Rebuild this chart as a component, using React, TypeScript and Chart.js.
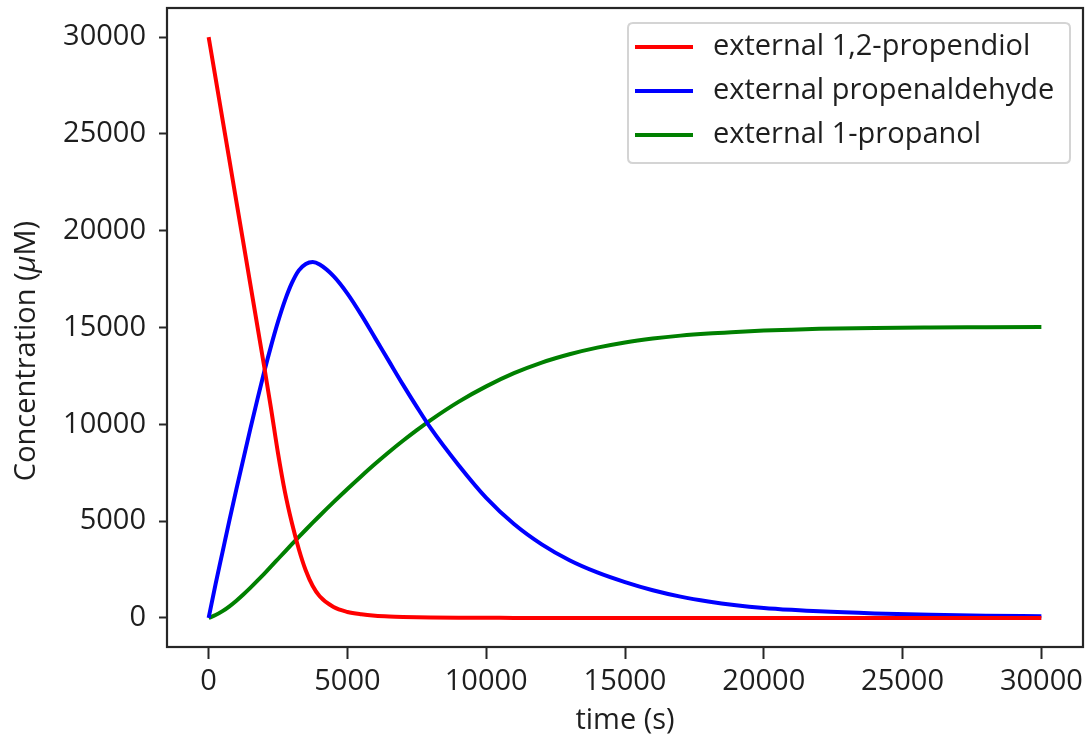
import React, { useEffect, useRef } from "react";
import { Chart, registerables } from "chart.js";

Chart.register(...registerables);

const timePoints = [
  0, 250, 500, 750, 1000, 1250, 1500, 1750, 2000, 2250, 2500, 2750, 3000, 3250, 3500, 3750,
  4000, 4500, 5000, 5500, 6000, 6500, 7000, 7500, 8000, 9000, 10000, 11000, 12000, 13000,
  14000, 15000, 16000, 17000, 18000, 19000, 20000, 21000, 22000, 24000, 26000, 28000, 30000,
];

const propendiol = [
  30000, 27880, 25750, 23630, 21500, 19380, 17250, 15120, 13000, 10800, 8500, 6500, 4900, 3550, 2450, 1650,
  1120, 560, 310, 190, 120, 80, 55, 38, 26, 13, 7, 4, 2, 1,
  0, 0, 0, 0, 0, 0, 0, 0, 0, 0, 0, 0, 0,
];

const propenaldehyde = [
  0, 1750, 3400, 5050, 6650, 8200, 9750, 11250, 12700, 14050, 15300, 16400, 17300, 17950, 18280, 18380,
  18250, 17650, 16750, 15650, 14450, 13250, 12050, 10900, 9800, 7900, 6200, 4850, 3800, 2980,
  2350, 1850, 1430, 1100, 850, 660, 520, 420, 340, 235, 165, 120, 90,
];

const propanol = [
  0, 150, 350, 600, 890, 1210, 1550, 1910, 2280, 2660, 3045, 3430, 3810, 4185, 4555, 4920,
  5280, 5980, 6660, 7320, 7960, 8570, 9150, 9700, 10220, 11160, 11960, 12640, 13190, 13620,
  13960, 14230, 14430, 14580, 14690, 14770, 14840, 14890, 14930, 14980, 15000, 15010, 15020,
];

const seriesLabels = ["external 1,2-propendiol", "external propenaldehyde", "external 1-propanol"];
const seriesColors = ["#ff0000", "#0000ff", "#008000"];

const xTicks = [0, 5000, 10000, 15000, 20000, 25000, 30000];
const yTicks = [0, 5000, 10000, 15000, 20000, 25000, 30000];

const xTitle = "time (s)";
const yTitleParts = ["Concentration (", "\u03bc", "M)"];

const FONT = "'Open Sans', 'Noto Sans', sans-serif";
const FONT_SIZE = 29;
const TEXT_COLOR = "#1e1e1e";
const FRAME_COLOR = "#262626";

const framePlugin = {
  id: "frame",
  afterDraw(chart: any) {
    const { ctx, chartArea } = chart;
    ctx.save();
    ctx.strokeStyle = FRAME_COLOR;
    ctx.lineWidth = 2.2;
    ctx.strokeRect(chartArea.left, chartArea.top, chartArea.right - chartArea.left, chartArea.bottom - chartArea.top);
    ctx.restore();
  },
};

const yTitlePlugin = {
  id: "yTitle",
  afterDraw(chart: any) {
    const { ctx } = chart;
    ctx.save();
    ctx.translate(27, 351);
    ctx.rotate(-Math.PI / 2);
    ctx.textBaseline = "middle";
    ctx.textAlign = "left";
    ctx.fillStyle = TEXT_COLOR;
    const fonts = [
      `${FONT_SIZE}px ${FONT}`,
      `italic ${FONT_SIZE}px ${FONT}`,
      `${FONT_SIZE}px ${FONT}`,
    ];
    let total = 0;
    const widths = yTitleParts.map((p, i) => {
      ctx.font = fonts[i];
      const w = ctx.measureText(p).width;
      total += w;
      return w;
    });
    let x = -total / 2;
    yTitleParts.forEach((p, i) => {
      ctx.font = fonts[i];
      ctx.fillText(p, x, 0);
      x += widths[i];
    });
    ctx.restore();
  },
};

const legendPlugin = {
  id: "boxLegend",
  afterDraw(chart: any) {
    const { ctx, chartArea } = chart;
    const datasets = chart.data.datasets;
    const boxRight = chartArea.right - 13;
    const boxLeft = chartArea.left + 461;
    const boxTop = chartArea.top + 15;
    const rowH = 44;
    const boxH = rowH * datasets.length + 8;
    ctx.save();
    ctx.beginPath();
    const r = 5;
    const w = boxRight - boxLeft;
    ctx.moveTo(boxLeft + r, boxTop);
    ctx.lineTo(boxLeft + w - r, boxTop);
    ctx.quadraticCurveTo(boxLeft + w, boxTop, boxLeft + w, boxTop + r);
    ctx.lineTo(boxLeft + w, boxTop + boxH - r);
    ctx.quadraticCurveTo(boxLeft + w, boxTop + boxH, boxLeft + w - r, boxTop + boxH);
    ctx.lineTo(boxLeft + r, boxTop + boxH);
    ctx.quadraticCurveTo(boxLeft, boxTop + boxH, boxLeft, boxTop + boxH - r);
    ctx.lineTo(boxLeft, boxTop + r);
    ctx.quadraticCurveTo(boxLeft, boxTop, boxLeft + r, boxTop);
    ctx.closePath();
    ctx.fillStyle = "rgba(255,255,255,0.85)";
    ctx.fill();
    ctx.strokeStyle = "#d4d4d4";
    ctx.lineWidth = 2;
    ctx.stroke();

    ctx.font = `${FONT_SIZE}px ${FONT}`;
    ctx.textBaseline = "middle";
    ctx.textAlign = "left";
    datasets.forEach((ds: any, i: number) => {
      const y = boxTop + 24 + i * rowH;
      ctx.strokeStyle = ds.borderColor;
      ctx.lineWidth = 4;
      ctx.beginPath();
      ctx.moveTo(boxLeft + 7, y);
      ctx.lineTo(boxLeft + 65, y);
      ctx.stroke();
      ctx.fillStyle = TEXT_COLOR;
      ctx.fillText(ds.label, boxLeft + 85, y);
    });
    ctx.restore();
  },
};

export default function App() {
  const canvasRef = useRef<HTMLCanvasElement | null>(null);

  useEffect(() => {
    const canvas = canvasRef.current;
    if (!canvas) return;
    const seriesValues = [propendiol, propenaldehyde, propanol];
    const chart = new Chart(canvas, {
      type: "line",
      data: {
        datasets: seriesValues.map((vals, i) => ({
          label: seriesLabels[i],
          data: timePoints.map((t, j) => ({ x: t, y: vals[j] })),
          borderColor: seriesColors[i],
          backgroundColor: seriesColors[i],
          borderWidth: 4,
          pointRadius: 0,
          fill: false,
          cubicInterpolationMode: "monotone" as const,
        })),
      },
      options: {
        animation: false,
        responsive: false,
        devicePixelRatio: 1,
        layout: { padding: { top: 8, right: 2, left: 0, bottom: 0 } },
        plugins: {
          legend: { display: false },
          tooltip: { enabled: false },
        },
        scales: {
          x: {
            type: "linear",
            min: -1500,
            max: 31500,
            afterBuildTicks: (axis: any) => {
              axis.ticks = xTicks.map((v) => ({ value: v }));
            },
            afterFit: (scale: any) => {
              scale.height = 94;
              scale.paddingLeft = 0;
              scale.paddingRight = 0;
            },
            border: { display: false },
            grid: {
              drawOnChartArea: false,
              drawTicks: true,
              tickLength: 12,
              tickColor: FRAME_COLOR,
              tickWidth: 2,
            },
            ticks: {
              color: TEXT_COLOR,
              font: { family: FONT, size: FONT_SIZE },
              padding: 5,
              maxRotation: 0,
              autoSkip: false,
              callback: (v: any) => String(v),
            },
            title: {
              display: true,
              text: xTitle,
              color: TEXT_COLOR,
              font: { family: FONT, size: FONT_SIZE, lineHeight: 1.2 },
              padding: { top: 0, bottom: 3 },
            },
          },
          y: {
            type: "linear",
            min: -1500,
            max: 31500,
            afterBuildTicks: (axis: any) => {
              axis.ticks = yTicks.map((v) => ({ value: v }));
            },
            afterFit: (scale: any) => {
              scale.width = 167;
              scale.paddingTop = 0;
              scale.paddingBottom = 0;
            },
            border: { display: false },
            grid: {
              drawOnChartArea: false,
              drawTicks: true,
              tickLength: 8,
              tickColor: FRAME_COLOR,
              tickWidth: 2,
            },
            ticks: {
              color: TEXT_COLOR,
              font: { family: FONT, size: FONT_SIZE },
              padding: 13,
              autoSkip: false,
              callback: (v: any) => String(v),
            },
          },
        },
      },
      plugins: [framePlugin, legendPlugin, yTitlePlugin],
    });
    return () => chart.destroy();
  }, []);

  return (
    <div style={{ position: "absolute", left: 0, top: 0, width: 1085, height: 741, background: "#ffffff" }}>
      <canvas ref={canvasRef} width={1085} height={741} style={{ display: "block" }} />
    </div>
  );
}
